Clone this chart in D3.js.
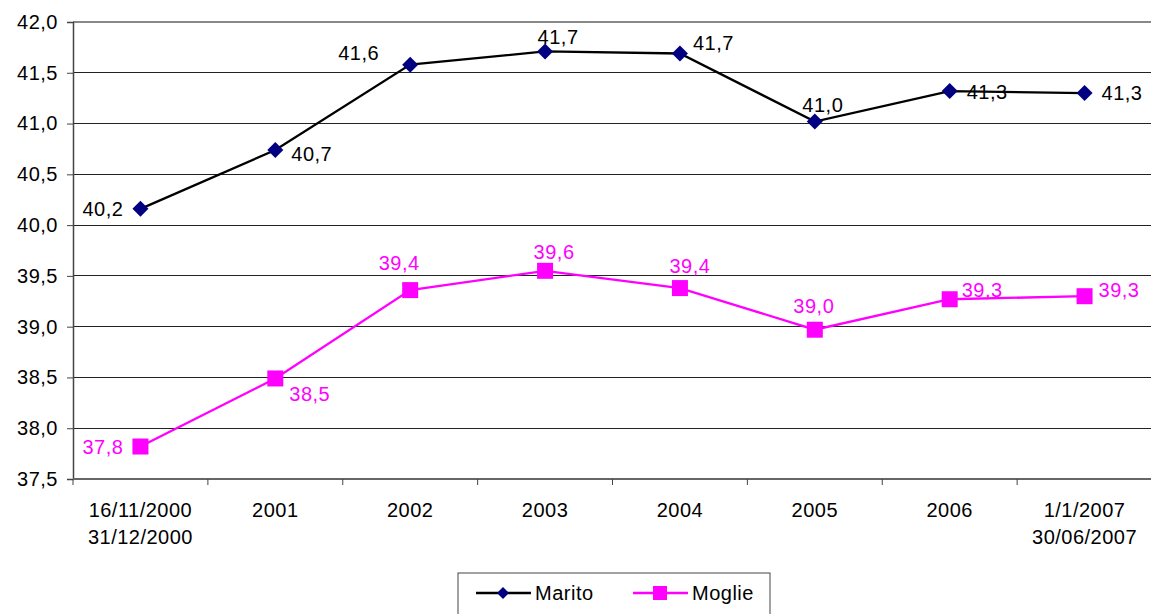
<!DOCTYPE html>
<html><head><meta charset="utf-8">
<script src="https://cdn.jsdelivr.net/npm/d3@7"></script>
<style>
body{margin:0;background:#fff;}
text{font-family:"Liberation Sans",Arial,sans-serif;letter-spacing:0.5px;}
</style></head>
<body><svg id="c" width="1151" height="614"></svg>
<script>
const categories = [["16/11/2000","31/12/2000"],["2001"],["2002"],["2003"],["2004"],["2005"],["2006"],["1/1/2007","30/06/2007"]];
const marito = [40.16, 40.74, 41.58, 41.71, 41.69, 41.02, 41.32, 41.30];
const moglie = [37.82, 38.49, 39.36, 39.55, 39.38, 38.97, 39.27, 39.30];
const maritoLabels = ["40,2","40,7","41,6","41,7","41,7","41,0","41,3","41,3"];
const moglieLabels = ["37,8","38,5","39,4","39,6","39,4","39,0","39,3","39,3"];
const yTicks = [37.5,38.0,38.5,39.0,39.5,40.0,40.5,41.0,41.5,42.0];
const seriesNames = ["Marito","Moglie"];

// label layout (offset from marker centre, anchor)
const maritoLayout = [[-17,0,"end"],[16,4,"start"],[-31,-12,"end"],[13,-14,"middle"],[13,-10,"start"],[8,-17,"middle"],[17,1,"start"],[17,0,"start"]];
const moglieLayout = [[-17,0,"end"],[14,16,"start"],[-11,-27,"middle"],[9,-19,"middle"],[10,-22,"middle"],[-1,-24,"middle"],[12,-9,"start"],[14,-6,"start"]];

const svg = d3.select("#c");
const L = 73, R = 1152, T = 22, B = 479;
const x = d3.scaleBand().domain(d3.range(categories.length)).range([L,R]);
const y = d3.scaleLinear().domain([37.5,42.0]).range([B,T]);
const fmt = v => d3.format(".1f")(v).replace(".", ",");
const FS = 20;

// gridlines
svg.append("g").selectAll("line").data(yTicks.slice(1)).join("line")
  .attr("x1",L).attr("x2",R).attr("y1",d=>y(d)).attr("y2",d=>y(d))
  .attr("stroke",d=> d===42 ? "#888" : "#222").attr("stroke-width",d=>d===42?2:1)
  .attr("shape-rendering","crispEdges");

// y axis
const yAxis = svg.append("g").attr("transform",`translate(${L},0)`)
  .call(d3.axisLeft(y).tickValues(yTicks).tickFormat(fmt).tickSize(6).tickPadding(9));
yAxis.select(".domain").attr("stroke","#444").attr("stroke-width",1.5);
yAxis.selectAll(".tick line").attr("stroke","#444");
yAxis.selectAll("text").attr("font-size",FS).attr("fill","#000").attr("font-family","Liberation Sans, Arial, sans-serif");

// x axis
const xAxis = svg.append("g").attr("transform",`translate(0,${B})`);
xAxis.append("line").attr("x1",L).attr("x2",R).attr("stroke","#666").attr("stroke-width",2);
const edges = d3.range(categories.length).map(i=>x(i)).concat([R]);
xAxis.selectAll("line.tk").data(edges).join("line").attr("class","tk")
  .attr("x1",d=>d).attr("x2",d=>d).attr("y1",0).attr("y2",6).attr("stroke","#444");
const xl = xAxis.selectAll("text").data(categories).join("text")
  .attr("text-anchor","middle").attr("font-size",FS).attr("fill","#000")
  .attr("transform",(d,i)=>`translate(${x(i)+x.bandwidth()/2},0)`);
xl.selectAll("tspan").data(d=>d).join("tspan").attr("x",0).attr("y",(d,i)=>38+i*27).text(d=>d);

const cx = i => x(i)+x.bandwidth()/2;
const line = d3.line().x((d,i)=>cx(i)).y(d=>y(d));

function drawSeries(vals, color, markerColor, shape, labels, layout, labelColor){
  svg.append("path").datum(vals).attr("d",line).attr("fill","none").attr("stroke",color).attr("stroke-width",2.3);
  svg.append("g").selectAll("path").data(vals).join("path")
    .attr("transform",(d,i)=>`translate(${cx(i)},${y(d)})`)
    .attr("d", shape==="diamond" ? "M0,-8L8,0L0,8L-8,0Z" : "M-8,-8H8V8H-8Z")
    .attr("fill",markerColor);
  svg.append("g").selectAll("text").data(vals).join("text")
    .attr("x",(d,i)=>cx(i)+layout[i][0]).attr("y",(d,i)=>y(d)+layout[i][1])
    .attr("text-anchor",(d,i)=>layout[i][2]).attr("dominant-baseline","central")
    .attr("font-size",FS).attr("fill",labelColor).text((d,i)=>labels[i]);
}
drawSeries(marito,"#000","#000080","diamond",maritoLabels,maritoLayout,"#000");
drawSeries(moglie,"#ff00ff","#ff00ff","square",moglieLabels,moglieLayout,"#ff00ff");

// legend
const lg = svg.append("g");
lg.append("rect").attr("x",458).attr("y",573).attr("width",312).attr("height",50).attr("fill","#fff").attr("stroke","#444").attr("stroke-width",1);
const items = [
  {name:seriesNames[0], color:"#000", mc:"#000080", shape:"diamond", x0:476},
  {name:seriesNames[1], color:"#ff00ff", mc:"#ff00ff", shape:"square", x0:633}
];
items.forEach(it=>{
  lg.append("line").attr("x1",it.x0).attr("x2",it.x0+55).attr("y1",593).attr("y2",593).attr("stroke",it.color).attr("stroke-width",2.3);
  lg.append("path").attr("transform",`translate(${it.x0+27},593)`)
    .attr("d", it.shape==="diamond" ? "M0,-6L6,0L0,6L-6,0Z" : "M-7,-7H7V7H-7Z").attr("fill",it.mc);
  lg.append("text").attr("x",it.x0+59).attr("y",593).attr("dominant-baseline","central").attr("font-size",FS).text(it.name);
});
</script></body></html>
